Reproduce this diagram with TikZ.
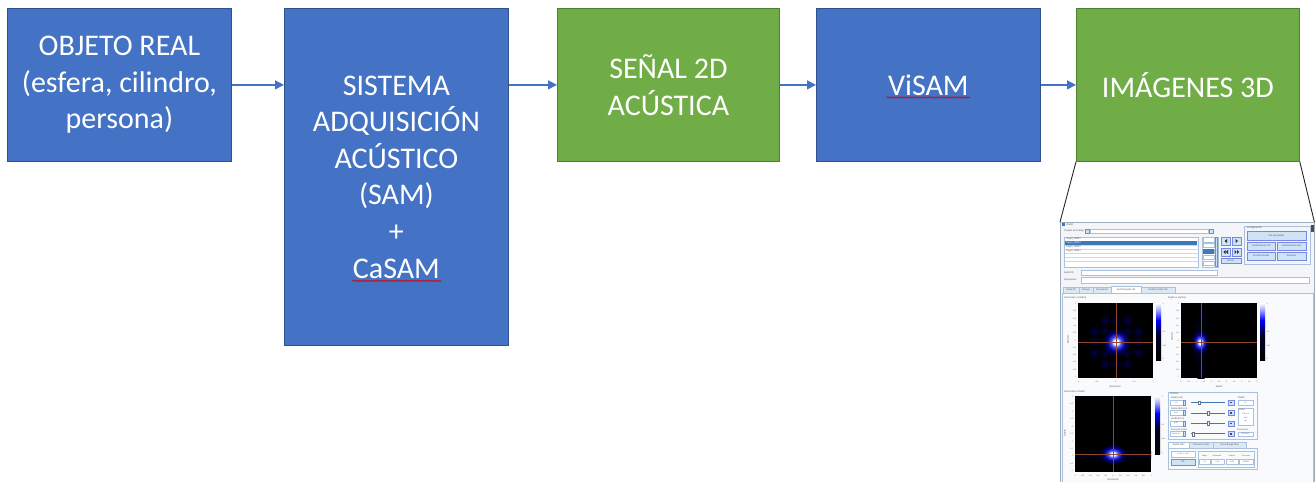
\documentclass[tikz,border=0pt]{standalone}
\usepackage{fontspec}
\setmainfont{Carlito}
\usetikzlibrary{arrows.meta,decorations.pathmorphing,calc}
\definecolor{offblue}{HTML}{4472C4}
\definecolor{offblueD}{HTML}{2F528F}
\definecolor{offgreen}{HTML}{70AD47}
\definecolor{offgreenD}{HTML}{507E32}
\definecolor{guibg}{HTML}{F3F5F8}
\definecolor{guiline}{HTML}{A9C1DC}
\definecolor{guibtn}{HTML}{CFE3F7}
\definecolor{guisel}{HTML}{3D78B8}
\definecolor{guitab}{HTML}{DCE8F4}
\definecolor{xhair}{HTML}{8C4A2A}
\definecolor{guitext}{HTML}{505860}
\pgfdeclareradialshading{blobsh}{\pgfpoint{0bp}{0bp}}{color(0bp)=(white); color(4bp)=(white); color(9bp)=(blue!70!white); color(16bp)=(blue!55!black); color(25bp)=(black); color(50bp)=(black)}
\pgfdeclareradialshading{lobesh}{\pgfpoint{0bp}{0bp}}{color(0bp)=(blue!28!black); color(25bp)=(black); color(50bp)=(black)}
\pgfdeclareverticalshading{cbarsh}{100bp}{color(0bp)=(black); color(25bp)=(black); color(47bp)=(black!85!blue); color(60bp)=(blue); color(69bp)=(blue!35!white); color(75bp)=(white); color(100bp)=(white)}
\newcommand\ylabsA{1,{0,8},{0,6},{0,4},{0,2},0,{-0,2},{-0,4},{-0,6},{-0,8},-1}
\newcommand\xlabsA{-1,{-0,5},0,{0,5},1}
\newcommand\xlabsB{0,{0,5},1,{1,5},2,{2,5},3,{3,5},4,{4,5},5}
\newcommand\ylabsC{5,{4,5},4,{3,5},3,{2,5},2,{1,5},1,{0,5},0}
\newcommand\xlabsC{-1,{-0,8},{-0,6},{-0,4},{-0,2},0,{0,2},{0,4},{0,6},{0,8},1}
\tikzset{
  flowbox/.style={rectangle, minimum width=224pt, minimum height=153pt, inner sep=0pt, line width=0.8pt, text=white, align=center, font=\fontsize{30}{36.6}\selectfont, anchor=north west},
  bluebox/.style={flowbox, fill=offblue, draw=offblueD},
  greenbox/.style={flowbox, fill=offgreen, draw=offgreenD},
  flowarrow/.style={draw=offblue, line width=1.4pt, -{Triangle[length=9pt,width=9pt]}},
  callout/.style={draw=black!85, line width=0.9pt},
  spell/.style={draw=red!85!black, line width=0.6pt, decorate, decoration={snake, amplitude=0.7pt, segment length=2.6pt}},
  gpanel/.style={draw=guiline, line width=0.3pt},
  gfield/.style={draw=guiline, fill=white, line width=0.3pt},
  gbtn/.style={draw=guiline!70!blue, fill=guibtn, line width=0.3pt},
  gtab/.style={draw=guiline, fill=guitab, line width=0.3pt},
  gtxt/.style={font=\fontsize{2.6}{3}\selectfont, text=guitext, inner sep=0pt},
  gtick/.style={font=\fontsize{2}{2.4}\selectfont, text=guitext, inner sep=0pt},
  xh/.style={draw=xhair, line width=0.25pt},
}
\begin{document}
\begin{tikzpicture}[x=1pt,y=-1pt]
\useasboundingbox (0,0) rectangle (1315,482);
% ---- flow boxes
\node[bluebox] (b1) at (7,8) {OBJETO REAL\\(esfera, cilindro,\\persona)};
\node[bluebox, minimum height=337pt] (b2) at (284,8) {SISTEMA\\ADQUISICIÓN\\ACÚSTICO\\(SAM)\\+\\CaSAM};
\node[greenbox, minimum width=222pt] (b3) at (557,8) {SEÑAL 2D\\ACÚSTICA};
\node[bluebox] (b4) at (816,8) {ViSAM};
\node[greenbox, minimum width=223pt] (b5) at (1076,8) {IMÁGENES 3D};
% ---- arrows
\draw[flowarrow] (b1.east) -- (b1.east -| b2.west);
\draw[flowarrow] (b2.east |- b1.east) -- (b3.west);
\draw[flowarrow] (b3.east) -- (b4.west);
\draw[flowarrow] (b4.east) -- (b5.west);
% ---- spell-check underlines
\draw[spell] ($(b2.center)+(-44,104)$) -- ($(b2.center)+(45,104)$);
\draw[spell] ($(b4.center)+(-42,12.5)$) -- ($(b4.center)+(42,12.5)$);
% ---- screenshot
\node[draw=guiline!70!gray, fill=guibg, line width=0.4pt, minimum width=254pt, minimum height=262pt, anchor=north west, inner sep=0pt] (shot) at (1060,222) {};
\draw[callout] (b5.south west) -- (shot.north west);
\draw[callout] (b5.south east) -- (shot.north east);
% title
\fill[guisel] (1061.5,223.3) rectangle (1064.5,226.3);
\node[gtxt, anchor=west] (gTitle) at (1066,224.8) {ViSAM};
\fill[black!70] (1311,225) rectangle (1313.5,232);
% carpeta
\node[gtxt, anchor=west] (gCarp) at (1064,231) {Carpeta de Trabajo};
\draw[gbtn] (1085,229) rectangle (1089,233);
\draw[gfield] (1090,229) rectangle (1208,233);
\draw[gbtn] (1209,229) rectangle (1213,233);
% list
\draw[gfield] (1064,237) rectangle (1198,267);
\foreach \yy in {241.2,245.2,249.2,253.2,257.2,261.2} \draw[guiline!60, line width=0.2pt] (1064.5,\yy) -- (1197.5,\yy);
\fill[guisel] (1064.6,241.3) rectangle (1197.4,245.1);
\node[gtxt, anchor=west] (gL1) at (1066,239.2) {Target\_00001};
\node[gtxt, anchor=west, text=white] (gL2) at (1066,243.2) {Target\_00002};
\node[gtxt, anchor=west] (gL3) at (1066,247.2) {Target\_00003};
\node[gtxt, anchor=west] (gL4) at (1066,251.2) {Target\_00004};
% spin list
\draw[gfield] (1202,237) rectangle (1218,267);
\foreach \yy in {237.5,243,249,255,261} \draw[gfield] (1203,\yy) rectangle (1214,\yy+4.5);
\fill[guisel] (1203,249) rectangle (1214,253.5);
\draw[gbtn] (1215,237.5) rectangle (1217.5,266.5);
% nav buttons
\draw[gbtn] (1221,237) rectangle (1230,245);
\draw[gbtn] (1232,237) rectangle (1241,245);
\draw[gbtn] (1221,248) rectangle (1230,256);
\draw[gbtn] (1232,248) rectangle (1241,256);
\fill[black!80] (1227,239) -- (1227,243) -- (1224.5,241) -- cycle;
\fill[black!80] (1235.5,239) -- (1235.5,243) -- (1238,241) -- cycle;
\fill[black!80] (1225.5,250) -- (1225.5,254) -- (1223.3,252) -- cycle;
\fill[black!80] (1228,250) -- (1228,254) -- (1225.8,252) -- cycle;
\fill[black!80] (1234.5,250) -- (1234.5,254) -- (1236.7,252) -- cycle;
\fill[black!80] (1237,250) -- (1237,254) -- (1239.2,252) -- cycle;
\draw[gbtn] (1221,258) rectangle (1241,263);
\node[gtxt] (gBorrar) at (1231,260.5) {Borrar};
% configuracion
\draw[gpanel] (1244,226) rectangle (1310,264);
\node[gtxt, anchor=west] (gConf) at (1247,227.5) {Configuración};
\draw[gbtn] (1247,231) rectangle (1306,240);
\node[gtxt] (gPre) at (1276.5,235.5) {Pre procesado};
\draw[gbtn] (1247,242) rectangle (1275.5,250);
\node[gtxt] (gC4D) at (1261.2,246) {Conformación 4D};
\draw[gbtn] (1277,242) rectangle (1306,250);
\node[gtxt] (gCH) at (1291.5,246) {Conformación Haz};
\draw[gbtn] (1247,252) rectangle (1275.5,260);
\node[gtxt] (gPost) at (1261.2,256) {Post Procesado};
\draw[gbtn] (1277,252) rectangle (1306,260);
\node[gtxt] (gDet) at (1291.5,256) {Detector};
% senal / descripcion
\node[gtxt, anchor=west] (gSen) at (1064,272.3) {Señal 2D};
\draw[gfield] (1081,270) rectangle (1217,274.8);
\node[gtxt, anchor=west] (gDes) at (1064,280.2) {Descripción};
\draw[gfield] (1081,277.6) rectangle (1309,282.8);
% tabs
\draw[gpanel, fill=guibg!50!white] (1062,293) rectangle (1313,484);
\draw[gtab] (1063,287) rectangle (1079,293);
\node[gtxt] (gT1) at (1071,290) {Señal 2D};
\draw[gtab] (1079,287) rectangle (1093,293);
\node[gtxt] (gT2) at (1086,290) {Tiempo};
\draw[gtab] (1093,287) rectangle (1111,293);
\node[gtxt] (gT3) at (1102,290) {Frecuencia};
\draw[gpanel, fill=white] (1111,286) rectangle (1141,293);
\node[gtxt] (gT4) at (1126,289.6) {Conformación 4D};
\draw[gtab] (1141,287) rectangle (1175,293);
\node[gtxt] (gT5) at (1158,290) {Conformación Haz};
% ---- plot 1
\node[gtxt, anchor=west] (gP1) at (1064,298) {Horizontal vs Vertical};
\begin{scope}
\clip (1078,303) rectangle (1153,378);
\fill[black] (1078,303) rectangle (1153,378);
\foreach \dx/\dy in {-11/0,11/0,0/-11,0/11,-11/-11,11/-11,-11/11,11/11,-22/0,22/0,0/-22,0/22,-22/-11,22/11,-11/22,11/-22,-22/11,22/-11,11/22,-11/-22}
  \shade[shading=lobesh] (1116+\dx,342+\dy) circle (6pt);
\shade[shading=blobsh] (1116,342) circle (14pt);
\end{scope}
\draw[xh] (1116,303) -- (1116,378);
\draw[xh] (1078,342) -- (1153,342);
\shade[shading=cbarsh] (1156,303) rectangle (1161,360);
\foreach \v [count=\i from 0] in \ylabsA \node[gtick, anchor=east] (p1y\i) at (1076,304+\i*7.3) {\v};
\foreach \v [count=\i from 0] in \xlabsA \node[gtick] (p1x\i) at (1078+\i*18.75,381.5) {\v};
\node[gtick, anchor=west] (p1c0) at (1162.5,304) {1};
\node[gtick, anchor=west] (p1c1) at (1162.5,331.5) {0,5};
\node[gtick, anchor=west] (p1c2) at (1162.5,345.5) {0,25};
\node[gtick, anchor=west] (p1c3) at (1162.5,359) {0};
\node[gtxt, rotate=90] (p1yl) at (1068,340) {Vertical};
\node[gtxt] (p1xl) at (1115,386.5) {Horizontal};
% ---- plot 2
\node[gtxt, anchor=west] (gP2) at (1168,298) {Depth vs Vertical};
\begin{scope}
\clip (1181,303) rectangle (1257,378);
\fill[black] (1181,303) rectangle (1257,378);
\shade[shading=lobesh] (1201,342) ellipse [x radius=6pt, y radius=45pt];
\shade[shading=lobesh] (1199,342) ellipse [x radius=8pt, y radius=24pt];
\shade[shading=blobsh] (1200,342) ellipse [x radius=9pt, y radius=12pt];
\end{scope}
\draw[xh] (1201,303) -- (1201,378);
\draw[xh] (1181,342) -- (1257,342);
\shade[shading=cbarsh] (1260,303) rectangle (1265,360);
\foreach \v [count=\i from 0] in \ylabsA \node[gtick, anchor=east] (p2y\i) at (1179,304+\i*7.3) {\v};
\foreach \v [count=\i from 0] in \xlabsB \node[gtick] (p2x\i) at (1181+\i*7.6,381.5) {\v};
\node[gtick, anchor=west] (p2c0) at (1266.5,304) {1};
\node[gtick, anchor=west] (p2c1) at (1266.5,331.5) {0,5};
\node[gtick, anchor=west] (p2c2) at (1266.5,345.5) {0,25};
\node[gtick, anchor=west] (p2c3) at (1266.5,359) {0};
\node[gtxt, rotate=90] (p2yl) at (1172,337) {Vertical};
\node[gtxt] (p2xl) at (1219,386.5) {Depth};
% ---- plot 3
\node[gtxt, anchor=west] (gP3) at (1064,392) {Horizontal vs Depth};
\begin{scope}
\clip (1075,396) rectangle (1151,472);
\fill[black] (1075,396) rectangle (1151,472);
\shade[shading=lobesh] (1113,455) ellipse [x radius=50pt, y radius=6pt];
\shade[shading=lobesh] (1113,456) ellipse [x radius=24pt, y radius=8pt];
\shade[shading=blobsh] (1113,454) ellipse [x radius=14pt, y radius=10pt];
\end{scope}
\draw[xh] (1113,396) -- (1113,472);
\draw[xh] (1075,454) -- (1151,454);
\shade[shading=cbarsh] (1155,396) rectangle (1160,454);
\foreach \v [count=\i from 0] in \ylabsC \node[gtick, anchor=east] (p3y\i) at (1073,397+\i*7.4) {\v};
\foreach \v [count=\i from 0] in \xlabsC \node[gtick] (p3x\i) at (1075+\i*7.6,475.5) {\v};
\node[gtick, anchor=west] (p3c0) at (1161.5,397) {1};
\node[gtick, anchor=west] (p3c1) at (1161.5,425) {0,5};
\node[gtick, anchor=west] (p3c2) at (1161.5,439) {0,25};
\node[gtick, anchor=west] (p3c3) at (1161.5,453) {0};
\node[gtxt, rotate=90] (p3yl) at (1065,433) {Depth};
\node[gtxt] (p3xl) at (1113,480) {Horizontal};
% ---- position group
\draw[gpanel] (1168,392) rectangle (1257,439);
\node[gtxt, anchor=west] (gPos) at (1170,393.6) {Position};
\foreach \lab/\val/\yy/\th [count=\i] in {Depth (cm)/{1,2}/400/1199,Horizontal (cm)/{0,01}/410.5/1208,Vertical (cm)/{0,00}/420.8/1208,Frecuency (Hz)/{10196,23}/431.3/1193} {
  \node[gtxt, anchor=west] (gRl\i) at (1171,\yy-2) {\lab};
  \draw[gfield] (1170,\yy) rectangle (1183,\yy+5);
  \node[gtick] (gRv\i) at (1176,\yy+2.5) {\val};
  \draw[gbtn] (1183.2,\yy) rectangle (1185,\yy+5);
  \draw[guisel, line width=0.9pt] (1191,\yy+2.5) -- (1225,\yy+2.5);
  \fill[white, draw=guiline!60!black, line width=0.2pt] (\th-0.8,\yy+0.6) rectangle (\th+0.8,\yy+4.4);
  \draw[gbtn] (1228,\yy) rectangle (1234,\yy+5);
  \fill[black!70] (1230.2,\yy+1.8) rectangle (1231.8,\yy+3.2);
}
\node[gtxt, anchor=west] (gDp) at (1238,397.8) {Depth};
\draw[gfield] (1238,400) rectangle (1253,405);
\node[gtick] (gDpv) at (1245.5,402.5) {1,2};
\draw[gfield] (1238,408) rectangle (1253,425);
\node[gtxt, anchor=west] (gVal) at (1239,409.5) {Valor};
\node[gtick] (gVa1) at (1245.5,414) {5,95 e-1};
\node[gtick] (gVa2) at (1245.5,417.5) {-65,5};
\node[gtick] (gVa3) at (1245.5,421) {dB};
\node[gtxt, anchor=west] (gFq) at (1237,429.8) {Frecuency};
\draw[gfield] (1238,432) rectangle (1253,436.5);
\node[gtick] (gFqv) at (1245.5,434.3) {10196,23};
% ---- max tabs
\draw[gpanel, fill=white] (1168,442) rectangle (1189,448);
\node[gtxt] (gM1) at (1178.5,445) {Global Max};
\draw[gtab] (1189,442) rectangle (1213,448);
\node[gtxt] (gM2) at (1201,445) {Frecuency Max};
\draw[gtab] (1213,442) rectangle (1246,448);
\node[gtxt] (gM3) at (1229.5,445) {Pos \& Range Max};
\draw[gpanel] (1168,448) rectangle (1257,469.5);
\draw[gfield] (1171,451.5) rectangle (1195,457);
\node[gtick] (gDd) at (1183,454.2) {5,95 e-1 · 65,5};
\draw[gbtn] (1171,459) rectangle (1195,465);
\node[gtxt] (gOk) at (1183,462) {Ok};
\draw[gpanel] (1198,451) rectangle (1254,467);
\node[gtick] (gH1) at (1204.5,456) {Depth};
\node[gtick] (gH2) at (1217,456) {Horizontal};
\node[gtick] (gH3) at (1232,456) {Vertical};
\node[gtick] (gH4) at (1246,456) {Frecuency};
\draw[gfield] (1199.5,459) rectangle (1210,464);
\node[gtick] (gV1) at (1204.7,461.5) {1,2};
\draw[gfield] (1211,459) rectangle (1224,464);
\node[gtick] (gV2) at (1217.5,461.5) {0,01};
\draw[gfield] (1226,459) rectangle (1238,464);
\node[gtick] (gV3) at (1232,461.5) {0,00};
\draw[gfield] (1239.5,459) rectangle (1253,464);
\node[gtick] (gV4) at (1246.2,461.5) {10196,2};
\end{tikzpicture}
\end{document}
